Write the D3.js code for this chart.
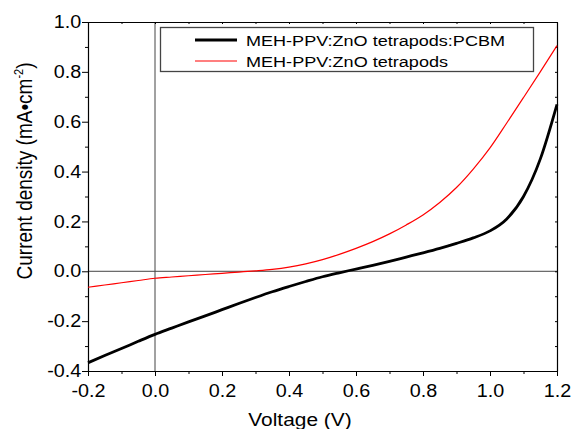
<!DOCTYPE html>
<html>
<head>
<meta charset="utf-8">
<script src="https://cdn.jsdelivr.net/npm/d3@7"></script>
<style>
  body { margin: 0; background: #fff; }
  svg { display: block; font-family: "Liberation Sans", Arial, sans-serif; }
</style>
</head>
<body>
<svg id="chart"></svg>
<script>
// voltage samples (V)
const voltage = [-0.2, -0.15, -0.1, -0.05, 0, 0.05, 0.1, 0.15, 0.2, 0.25, 0.3, 0.35, 0.4, 0.45, 0.5,
  0.55, 0.6, 0.65, 0.7, 0.75, 0.8, 0.85, 0.9, 0.95, 1.0, 1.05, 1.1, 1.15, 1.2];

// MEH-PPV:ZnO tetrapods:PCBM (black)
const pcbm = [-0.367, -0.338, -0.310, -0.281, -0.253, -0.228, -0.203, -0.179, -0.154, -0.129, -0.105,
  -0.082, -0.061, -0.041, -0.022, -0.006, 0.009, 0.024, 0.040, 0.057, 0.074, 0.092, 0.112, 0.134,
  0.162, 0.210, 0.300, 0.450, 0.670];

// MEH-PPV:ZnO tetrapods (red)
const tetrapods = [-0.064, -0.055, -0.046, -0.037, -0.028, -0.023, -0.018, -0.013, -0.008, -0.003,
  0.002, 0.008, 0.017, 0.030, 0.047, 0.068, 0.092, 0.119, 0.150, 0.186, 0.226, 0.276, 0.336, 0.410,
  0.495, 0.595, 0.697, 0.800, 0.905];

const seriesNames = ["MEH-PPV:ZnO tetrapods:PCBM", "MEH-PPV:ZnO tetrapods"];
const xMajor = [-0.2, 0, 0.2, 0.4, 0.6, 0.8, 1.0, 1.2];
const xMinor = [-0.1, 0.1, 0.3, 0.5, 0.7, 0.9, 1.1];
const yMajor = [-0.4, -0.2, 0, 0.2, 0.4, 0.6, 0.8, 1.0];
const yMinor = [-0.3, -0.1, 0.1, 0.3, 0.5, 0.7, 0.9];

const width = 572;
const height = 429;
const plotL = 88, plotR = 557, plotT = 22, plotB = 371;
const sx = 1.13; // glyphs in the reference are a bit wide
const fmt = d => d.toFixed(1);

const svg = d3.select("#chart").attr("width", width).attr("height", height);

const x = d3.scaleLinear().domain([-0.2, 1.2]).range([plotL, plotR]);
const y = d3.scaleLinear().domain([-0.4, 1.0]).range([plotB, plotT]);

// zero reference lines
svg.append("line")
  .attr("x1", x(0)).attr("x2", x(0)).attr("y1", plotT).attr("y2", plotB)
  .attr("stroke", "#444").attr("stroke-width", 1);
svg.append("line")
  .attr("x1", plotL).attr("x2", plotR).attr("y1", y(0)).attr("y2", y(0))
  .attr("stroke", "#444").attr("stroke-width", 1);

function styleAxis(g) {
  g.selectAll(".domain").attr("stroke", "#000").attr("stroke-width", 1.2);
  g.selectAll(".tick line").attr("stroke", "#000").attr("stroke-width", 1);
}

// bottom
const gx = svg.append("g").attr("transform", `translate(0,${plotB})`)
  .call(d3.axisBottom(x).tickValues(xMajor).tickSize(5).tickSizeOuter(0).tickPadding(9)
    .tickFormat(fmt));
gx.selectAll("text").attr("font-size", 17.5).attr("fill", "#000")
  .attr("font-family", "Liberation Sans, Arial, sans-serif")
  .attr("transform", `scale(${sx},1)`);
svg.append("g").attr("transform", `translate(0,${plotB})`)
  .call(d3.axisBottom(x).tickValues(xMinor).tickSize(3).tickSizeOuter(0).tickFormat(""))
  .call(g => g.select(".domain").remove());
styleAxis(gx);

// left
const gy = svg.append("g").attr("transform", `translate(${plotL},0)`)
  .call(d3.axisLeft(y).tickValues(yMajor).tickSize(6).tickSizeOuter(0).tickPadding(0)
    .tickFormat(fmt));
gy.selectAll("text").attr("font-size", 17.5).attr("fill", "#000")
  .attr("font-family", "Liberation Sans, Arial, sans-serif")
  .attr("transform", `scale(${sx},1)`);
svg.append("g").attr("transform", `translate(${plotL},0)`)
  .call(d3.axisLeft(y).tickValues(yMinor).tickSize(3).tickSizeOuter(0).tickFormat(""))
  .call(g => g.select(".domain").remove());
styleAxis(gy);

// top and right, ticks inward
const gt = svg.append("g").attr("transform", `translate(0,${plotT})`)
  .call(d3.axisTop(x).tickValues(xMajor.concat(xMinor)).tickSize(-2).tickSizeOuter(0).tickFormat(""));
styleAxis(gt);
const gr = svg.append("g").attr("transform", `translate(${plotR},0)`)
  .call(d3.axisRight(y).tickValues(yMajor.concat(yMinor)).tickSize(-2).tickSizeOuter(0).tickFormat(""));
styleAxis(gr);

// curves
const line = d3.line()
  .x((d, i) => x(voltage[i]))
  .y(d => y(d))
  .curve(d3.curveMonotoneX);

svg.append("path").datum(tetrapods)
  .attr("fill", "none").attr("stroke", "#ff0000").attr("stroke-width", 1.2)
  .attr("d", line);
svg.append("path").datum(pcbm)
  .attr("fill", "none").attr("stroke", "#000").attr("stroke-width", 2.8)
  .attr("d", line);

// legend
const lg = svg.append("g");
lg.append("rect")
  .attr("x", 160.5).attr("y", 27.5).attr("width", 373).attr("height", 44)
  .attr("fill", "#fff").attr("stroke", "#444").attr("stroke-width", 1.3);
const legendItems = [
  { name: seriesNames[0], color: "#000", w: 2.8, yy: 40, len: 259 },
  { name: seriesNames[1], color: "#ff0000", w: 1.2, yy: 61, len: 202 }
];
legendItems.forEach(it => {
  lg.append("line")
    .attr("x1", 195).attr("x2", 237).attr("y1", it.yy).attr("y2", it.yy)
    .attr("stroke", it.color).attr("stroke-width", it.w);
  lg.append("text")
    .attr("x", 246).attr("y", it.yy + 5.5)
    .attr("font-size", 15.5)
    .attr("textLength", it.len).attr("lengthAdjust", "spacingAndGlyphs")
    .text(it.name);
});

// axis titles
svg.append("text")
  .attr("transform", `translate(300,426) scale(${sx},1)`)
  .attr("text-anchor", "middle")
  .attr("font-size", 18.5)
  .text("Voltage (V)");

const yt = svg.append("text")
  .attr("transform", `translate(32,171) rotate(-90) scale(1,${sx})`)
  .attr("text-anchor", "middle")
  .attr("font-size", 19);
yt.append("tspan").text("Current density (mA\u2022cm");
yt.append("tspan").attr("font-size", 11).attr("dy", -8).text("-2");
yt.append("tspan").attr("dy", 8).text(")");
</script>
</body>
</html>
